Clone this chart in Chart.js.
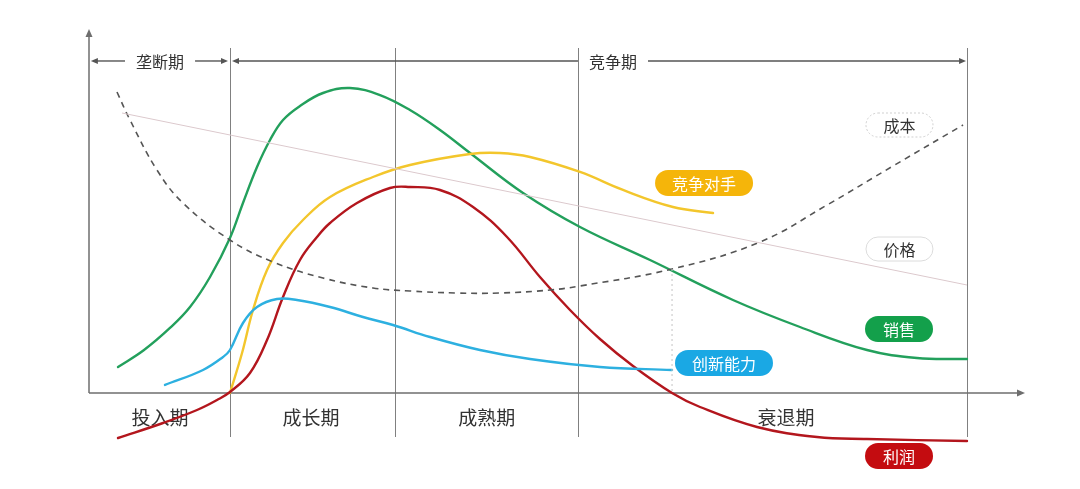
<!DOCTYPE html>
<html><head><meta charset="utf-8">
<script src="https://cdn.jsdelivr.net/npm/chart.js@4.4.0/dist/chart.umd.min.js"></script>
<style>html,body{margin:0;padding:0;background:#fff;}canvas{display:block;}</style>
</head><body>
<canvas id="c" width="1080" height="489"></canvas>
<script>
// ---- data (x: time 0..100, y: level, 0 = horizontal axis) ----
const stageNames = ['投入期', '成长期', '成熟期', '衰退期'];
const stageBounds = [15.06, 32.69, 52.24, 93.8];
const stageLabelX = [7.59, 23.72, 42.5, 74.47];
const periodNames = ['垄断期', '竞争期'];
const periodStart = [0.2, 15.28];
const periodEnd = [14.85, 93.7];
const periodLabelX = [7.59, 55.98];

const sales = [[3.10,8.67],[5.88,14.33],[8.65,21.67],[10.79,28.67],[12.93,38.67],[15.06,51.67],[16.45,63.33],[17.95,75.33],[19.34,84.33],[20.73,91],[22.54,95.67],[25.0,100],[27.88,101.67],[31.09,99.33],[34.29,94.33],[37.5,87.67],[40.71,80],[46.37,66.67],[52.46,55.33],[59.94,44.33],[68.80,31],[75.96,22],[83.12,14.33],[88.46,11.67],[93.80,11.33]];
const rivals = [[15.06,0],[16.35,13.33],[17.52,27.67],[19.02,41],[20.73,50],[22.86,57.67],[25.75,65.33],[30.34,72],[34.29,76],[40.71,79.67],[43.91,80],[47.12,78.67],[52.46,73.67],[57.05,67.67],[62.39,62],[66.67,60]];
const profit = [[3.10,-15],[7.91,-10],[11.54,-5.67],[13.68,-2.33],[15.06,0.33],[17.20,6.67],[19.02,17.67],[20.73,32],[22.54,44.33],[24.36,52],[25.75,56.67],[28.63,63.33],[32.16,68.33],[34.29,68.67],[37.5,67.67],[41.03,62],[44.66,52],[48.18,38.67],[51.39,27.67],[54.59,18],[58.12,9],[62.29,0],[65.28,-4.67],[71.37,-11.33],[77.78,-14.67],[83.12,-15.33],[93.80,-16]];
const innovation = [[8.12,2.67],[12.18,7.67],[14.32,12],[15.06,14.33],[16.45,23.33],[17.95,28.67],[20.09,31.33],[22.22,31],[25.75,28.67],[29.27,25.33],[32.48,22.67],[36.43,18.67],[41.77,14.33],[47.12,11.33],[54.59,8.67],[62.29,7.67]];
const cost = [[2.99,100.33],[4.38,91],[7.26,74.33],[10.04,63.33],[15.06,51],[19.66,43.67],[25.0,38.33],[30.34,35],[34.29,34],[39.32,33.33],[43.91,33.33],[49.25,34.33],[52.46,35.67],[62.29,41.33],[71.69,50.33],[78.85,62.67],[85.90,75.67],[93.38,89.33]];
const price = [[3.53,93.33],[93.80,36]];
const marker = [[62.29,41.33],[62.29,0]];

const pts = a => a.map(p => ({x: p[0], y: p[1]}));
const FONT = '"Noto Sans CJK SC", "Noto Sans", sans-serif';

const pills = [
  {text:'竞争对手', x:65.71, y:70,    w:98, h:26, fill:'#f5b50a', text_c:'#fff'},
  {text:'成本',     x:86.59, y:89.33, w:67, h:24, fill:'#fff', stroke:'#cfcfcf', dash:[2,2], text_c:'#333'},
  {text:'价格',     x:86.59, y:48,    w:67, h:24, fill:'#fff', stroke:'#dcdcdc', text_c:'#333'},
  {text:'销售',     x:86.54, y:21.33, w:68, h:26, fill:'#13a04b', text_c:'#fff'},
  {text:'创新能力', x:67.84, y:10,    w:98, h:26, fill:'#1aa8e4', text_c:'#fff'},
  {text:'利润',     x:86.54, y:-21,   w:68, h:26, fill:'#c40c10', text_c:'#fff'}
];

function arrowHead(ctx, tx, ty, dir, len, half){
  ctx.beginPath();
  if (dir === 'left'){ ctx.moveTo(tx,ty); ctx.lineTo(tx+len,ty-half); ctx.lineTo(tx+len,ty+half); }
  else if (dir === 'right'){ ctx.moveTo(tx,ty); ctx.lineTo(tx-len,ty-half); ctx.lineTo(tx-len,ty+half); }
  else if (dir === 'up'){ ctx.moveTo(tx,ty); ctx.lineTo(tx-half,ty+len); ctx.lineTo(tx+half,ty+len); }
  ctx.closePath(); ctx.fill();
}

const deco = {
  id:'deco',
  beforeDatasetsDraw(chart){
    const {ctx, scales:{x, y}} = chart;
    ctx.save();
    ctx.strokeStyle = '#808080'; ctx.lineWidth = 1;
    stageBounds.forEach(b => {
      const px = Math.round(x.getPixelForValue(b)) + 0.5;
      ctx.beginPath(); ctx.moveTo(px, y.getPixelForValue(115)); ctx.lineTo(px, y.getPixelForValue(-14.67)); ctx.stroke();
    });
    ctx.strokeStyle = '#6e6e6e'; ctx.fillStyle = '#6e6e6e'; ctx.lineWidth = 1.5;
    const ox = x.getPixelForValue(0), oy = y.getPixelForValue(0);
    const xe = x.getPixelForValue(100), yt = y.getPixelForValue(121.33);
    ctx.beginPath(); ctx.moveTo(ox, oy); ctx.lineTo(xe-6, oy); ctx.stroke();
    arrowHead(ctx, xe, oy, 'right', 8, 3.5);
    ctx.beginPath(); ctx.moveTo(ox, oy); ctx.lineTo(ox, yt+6); ctx.stroke();
    arrowHead(ctx, ox, yt, 'up', 8, 3.5);
    const ay = y.getPixelForValue(110.67);
    ctx.font = '16px ' + FONT; ctx.textAlign = 'center'; ctx.textBaseline = 'middle';
    ctx.strokeStyle = '#555'; ctx.fillStyle = '#555'; ctx.lineWidth = 1.4;
    periodNames.forEach((n, i) => {
      const s = x.getPixelForValue(periodStart[i]), e = x.getPixelForValue(periodEnd[i]);
      const c = x.getPixelForValue(periodLabelX[i]);
      const tw = ctx.measureText(n).width;
      let l1 = c - tw/2 - 11;
      if (i === 1) l1 = Math.min(l1, x.getPixelForValue(stageBounds[2]));
      ctx.beginPath(); ctx.moveTo(s+4, ay); ctx.lineTo(l1, ay); ctx.stroke();
      arrowHead(ctx, s, ay, 'left', 7, 3);
      ctx.beginPath(); ctx.moveTo(c + tw/2 + 11, ay); ctx.lineTo(e-4, ay); ctx.stroke();
      arrowHead(ctx, e, ay, 'right', 7, 3);
      ctx.fillStyle = '#333'; ctx.fillText(n, c, ay + 1); ctx.fillStyle = '#555';
    });
    ctx.font = '19px ' + FONT; ctx.fillStyle = '#333';
    stageNames.forEach((n, i) => ctx.fillText(n, x.getPixelForValue(stageLabelX[i]), y.getPixelForValue(-8.33)));
    ctx.restore();
  },
  afterDatasetsDraw(chart){
    const {ctx, scales:{x, y}} = chart;
    ctx.save();
    ctx.font = '16px ' + FONT; ctx.textAlign = 'center'; ctx.textBaseline = 'middle';
    pills.forEach(p => {
      const cx = x.getPixelForValue(p.x), cy = y.getPixelForValue(p.y);
      const l = cx - p.w/2, t = cy - p.h/2, r = p.h/2;
      ctx.beginPath();
      ctx.roundRect(l, t, p.w, p.h, r);
      ctx.fillStyle = p.fill; ctx.fill();
      if (p.stroke){ ctx.setLineDash(p.dash || []); ctx.strokeStyle = p.stroke; ctx.lineWidth = 1; ctx.stroke(); ctx.setLineDash([]); }
      ctx.fillStyle = p.text_c; ctx.fillText(p.text, cx, cy + 1);
    });
    ctx.restore();
  }
};

const line = (data, color, width, extra) => Object.assign({
  data: pts(data), borderColor: color, borderWidth: width, showLine: true,
  pointRadius: 0, tension: 0.4, fill: false, clip: false,
  borderCapStyle: 'round', borderJoinStyle: 'round'
}, extra || {});

new Chart(document.getElementById('c'), {
  type: 'scatter',
  data: { datasets: [
    line(price, '#dcc9cd', 1, {tension: 0, borderCapStyle: 'butt'}),
    line(marker, '#c4c4c4', 1, {borderDash: [2, 3], tension: 0, borderCapStyle: 'butt'}),
    line(cost, '#555555', 1.6, {borderDash: [6, 5], borderCapStyle: 'butt'}),
    line(innovation, '#2db0e0', 2.4),
    line(profit, '#b3161d', 2.4),
    line(rivals, '#f3c62c', 2.4),
    line(sales, '#23a05c', 2.4)
  ]},
  options: {
    responsive: false, animation: false, events: [],
    layout: { padding: { left: 89, right: 55, top: 18, bottom: 6 } },
    plugins: { legend: { display: false }, tooltip: { enabled: false }, title: { display: false } },
    scales: {
      x: { type: 'linear', min: 0, max: 100, display: false },
      y: { type: 'linear', min: -30, max: 125, display: false }
    }
  },
  plugins: [deco]
});
</script>
</body></html>
